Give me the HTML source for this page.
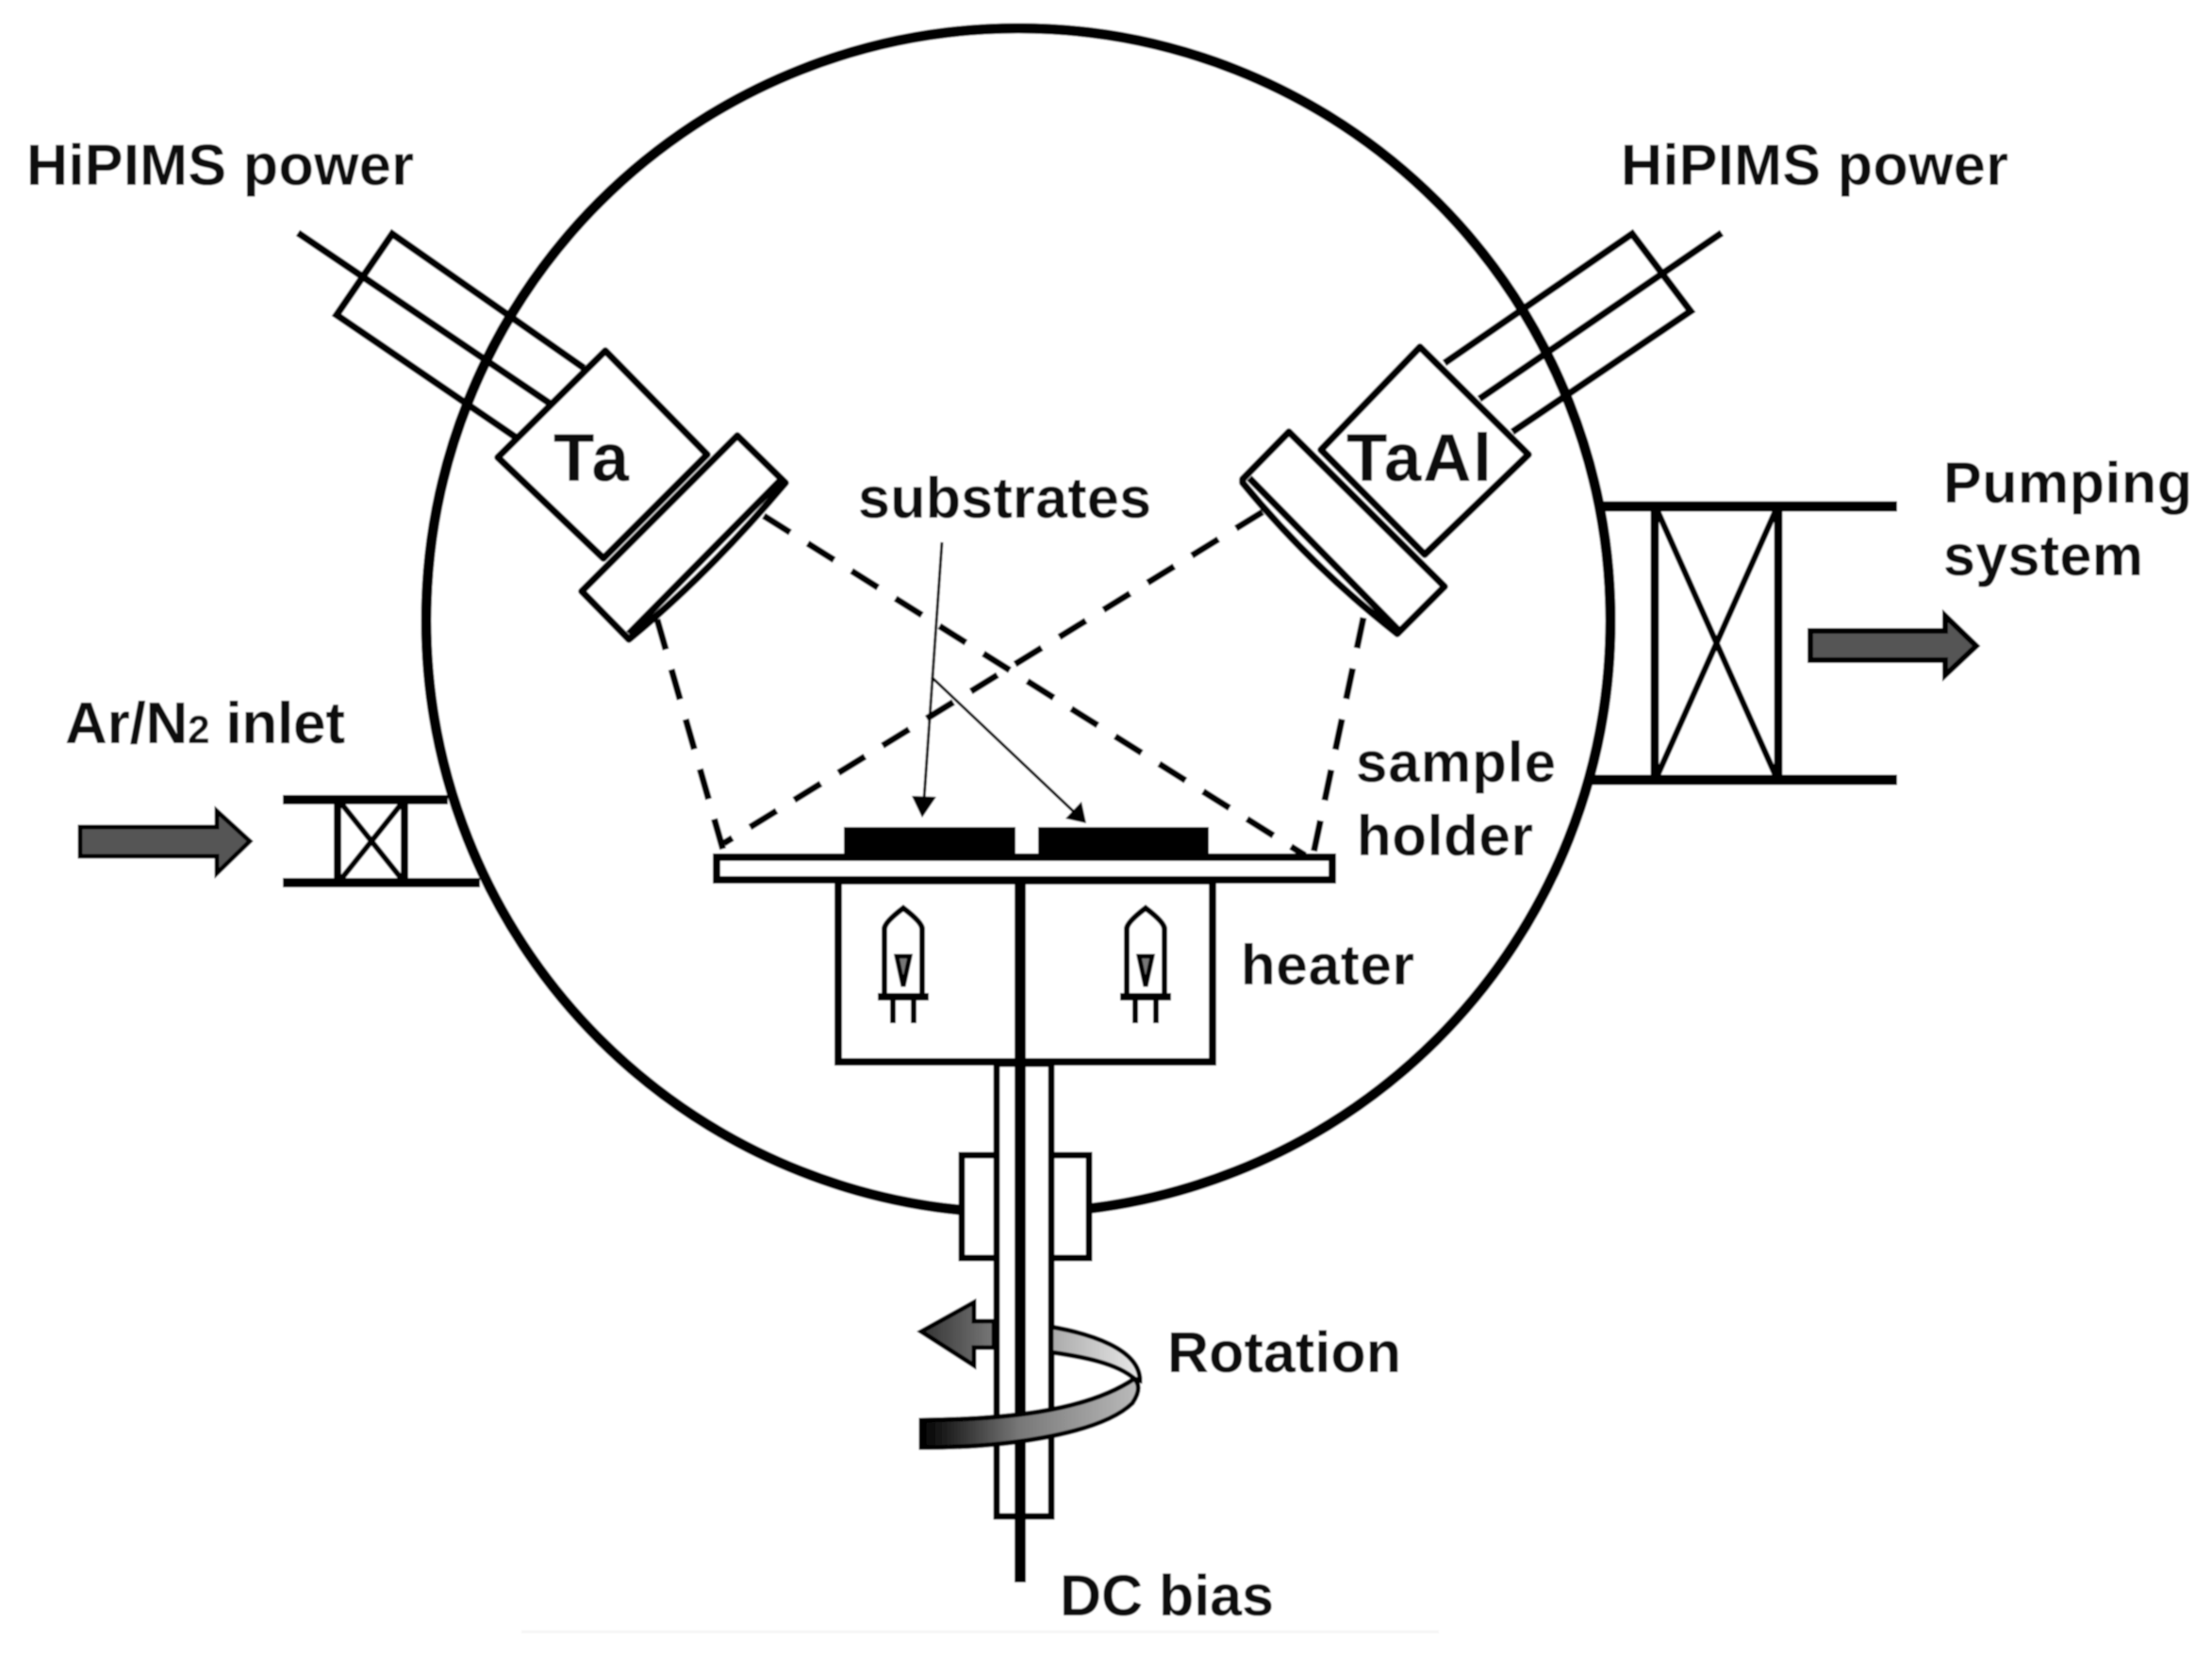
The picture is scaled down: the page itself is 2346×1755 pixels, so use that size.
<!DOCTYPE html>
<html><head><meta charset="utf-8"><style>
html,body{margin:0;padding:0;background:#fff}
svg{display:block}
text{font-family:"Liberation Sans",Arial,sans-serif;font-weight:bold;fill:#0c0c0c}
</style></head><body>
<svg width="2346" height="1755" viewBox="0 0 2346 1755" xmlns="http://www.w3.org/2000/svg">
<defs>
<linearGradient id="g1" x1="0" x2="1" y1="0" y2="0"><stop offset="0" stop-color="#333"/><stop offset="1" stop-color="#777"/></linearGradient>
<linearGradient id="g2" x1="0" x2="1" y1="0" y2="0"><stop offset="0" stop-color="#000"/><stop offset="0.45" stop-color="#777"/><stop offset="1" stop-color="#bbb"/></linearGradient>
<linearGradient id="g3" x1="0" x2="1" y1="0" y2="0"><stop offset="0" stop-color="#aaa"/><stop offset="1" stop-color="#e8e8e8"/></linearGradient>
<filter id="b" x="0" y="0" width="100%" height="100%"><feGaussianBlur stdDeviation="0.9"/></filter>
</defs>
<g filter="url(#b)">
<rect width="2346" height="1755" fill="#fff"/>
<circle cx="1080" cy="658" r="628" fill="none" stroke="#000" stroke-width="11"/>
<rect x="553" y="1729" width="973" height="3" fill="#f6f6f6"/>

<!-- Tubes -->
<g fill="none" stroke="#000" stroke-width="7.5">
<polyline points="619,390 416,248 357,334 546,463"/>
<line x1="316" y1="247" x2="582" y2="427"/>
<polyline points="1532,385 1731,248 1793,330 1604,458"/>
<line x1="1826" y1="247" x2="1569" y2="423"/>
</g>

<!-- Dashed lines -->
<g fill="none" stroke="#000" stroke-width="7" stroke-dasharray="33 22">
<line x1="810" y1="547" x2="1384" y2="907"/>
<line x1="1339" y1="543" x2="768" y2="894"/>
<line x1="697" y1="657" x2="768" y2="905"/>
<line x1="1446" y1="655" x2="1392" y2="910"/>
</g>

<!-- Ta cathode -->
<g fill="#fff" stroke="#000" stroke-width="7.5" stroke-linejoin="round">
<polygon points="642,372 528,485 640,592 750,482"/>
<path d="M782,462 L833,512 Q751,609 667,678 L617,627Z"/>
<path d="M827,510L667,672" fill="none"/>
<!-- TaAl cathode -->
<polygon points="1506,368 1621,482 1511,588 1401,477"/>
<path d="M1367,458 L1532,622 L1482,672 Q1390,600 1318,512 L1318,508Z"/>
<path d="M1325,507L1482,667" fill="none"/>
</g>
<text x="587" y="510" font-size="71" textLength="80">Ta</text>
<text x="1428" y="510" font-size="71" textLength="154">TaAl</text>

<!-- Inlet -->
<g fill="none" stroke="#000">
<path d="M300 848H475M300 936H509" stroke-width="10"/>
<path d="M358 848V936M429 848V936" stroke-width="8"/>
<path d="M362 852L426 932M426 852L362 932" stroke-width="6"/>
</g>
<polygon points="85,877 230,877 230,860 265,892 230,926 230,908 85,908" fill="#555" stroke="#000" stroke-width="5"/>

<!-- Pump -->
<g fill="none" stroke="#000">
<path d="M1692 537H2012M1688 827H2012" stroke-width="11"/>
<path d="M1755 537V827M1886 537V827" stroke-width="9"/>
<path d="M1758 542L1883 822M1883 542L1758 822" stroke-width="6.5"/>
</g>
<polygon points="1920,669 2063,669 2063,653 2096,685 2063,716 2063,700 1920,700" fill="#555" stroke="#000" stroke-width="6"/>

<!-- Heater -->
<rect x="889" y="934" width="397" height="192" fill="#fff" stroke="#000" stroke-width="8"/>
<!-- Holder -->
<rect x="760" y="909" width="653" height="24" fill="#fff" stroke="#000" stroke-width="8"/>
<rect x="895" y="877" width="182" height="36" fill="#000"/>
<rect x="1101" y="877" width="181" height="36" fill="#000"/>

<!-- Lamps -->
<g fill="none" stroke="#000" stroke-width="6">
<path d="M938 1055V985Q938 978 958 963Q978 978 978 985V1055"/>
<path d="M931 1057H985" stroke-width="8"/>
<path d="M947 1060V1085M969 1060V1085"/>
<path d="M951 1014H965L958 1046Z" fill="#777" stroke-width="5"/>
<path d="M1195 1055V985Q1195 978 1215 963Q1235 978 1235 985V1055"/>
<path d="M1188 1057H1242" stroke-width="8"/>
<path d="M1204 1060V1085M1226 1060V1085"/>
<path d="M1208 1014H1222L1215 1046Z" fill="#777" stroke-width="5"/>
</g>

<!-- Flange and stem -->
<rect x="1020" y="1225" width="135" height="109" fill="#fff" stroke="#000" stroke-width="7"/>
<rect x="1057" y="1128" width="58" height="480" fill="#fff" stroke="#000" stroke-width="7"/>

<!-- Rotation band upper -->
<path d="M1115 1407C1155 1414 1209 1430 1209 1464L1203 1462C1185 1446 1150 1439 1115 1434Z" fill="url(#g3)" stroke="#000" stroke-width="5"/>
<path d="M1082 934V1678" stroke="#000" stroke-width="12" fill="none"/>
<!-- Rotation band lower -->
<path d="M977 1506C1060 1505 1150 1498 1203 1462C1209 1468 1209 1476 1201 1488C1170 1518 1080 1535 977 1535Z" fill="url(#g2)" stroke="#000" stroke-width="5"/>
<!-- Rotation arrow -->
<polygon points="1054,1401 1033,1401 1033,1381 977,1412 1033,1448 1033,1429 1054,1429" fill="url(#g1)" stroke="#000" stroke-width="5"/>

<!-- Substrate pointers -->
<g stroke="#000" stroke-width="3" fill="none">
<path d="M999 575L980 848"/>
<path d="M988 718L1138 860"/>
</g>
<polygon points="967,844 993,845 978,867" fill="#000"/>
<polygon points="1130,868 1147,850 1152,873" fill="#000"/>

<!-- Labels -->
<text x="28" y="196" font-size="61" textLength="411">HiPIMS power</text>
<text x="1719" y="196" font-size="61" textLength="411">HiPIMS power</text>
<text x="910" y="549" font-size="61" textLength="311">substrates</text>
<text x="2061" y="533" font-size="61" textLength="264">Pumping</text>
<text x="2061" y="610" font-size="61" textLength="212">system</text>
<text x="69" y="788" font-size="62" textLength="297">Ar/N<tspan font-size="42">2</tspan> inlet</text>
<text x="1438" y="829" font-size="60" textLength="212">sample</text>
<text x="1439" y="907" font-size="60" textLength="187">holder</text>
<text x="1316" y="1044" font-size="60" textLength="184">heater</text>
<text x="1238" y="1455" font-size="61" textLength="248">Rotation</text>
<text x="1124" y="1713" font-size="61" textLength="227">DC bias</text>
</g>
</svg>
</body></html>
